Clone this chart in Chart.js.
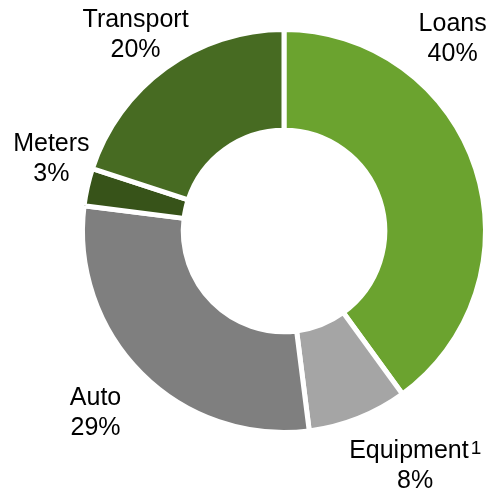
<!DOCTYPE html>
<html>
<head>
<meta charset="utf-8">
<script src="https://cdn.jsdelivr.net/npm/chart.js@4.4.1/dist/chart.umd.min.js"></script>
<style>
    html, body { margin: 0; padding: 0; background: #ffffff; }
    #wrap { width: 489px; height: 490px; position: relative; }
</style>
</head>
<body>
<div id="wrap"><canvas id="mixChart"></canvas></div>
<script>
// Portfolio mix - share of each segment (%)
const categories = ['Loans', 'Equipment\u00B9', 'Auto', 'Meters', 'Transport'];
const shares = [40, 8, 29, 3, 20];
const sliceColors = ['#6ba32f', '#a5a5a5', '#7f7f7f', '#375319', '#476b22'];

// label nudges (px) from the outer middle of each slice
const labelNudges = [[-23, -138], [57, 40], [-46, 32], [-36, -36], [-30, -41]];

const mainFont = '25px "Liberation Sans", Arial, sans-serif';
const supFont = '19px "Liberation Sans", Arial, sans-serif';

// Draws a name, with a footnote mark drawn as a real superscript
function drawName(ctx, text, x, y) {
    const sup = text.endsWith('\u00B9');
    if (!sup) {
        ctx.textAlign = 'center';
        ctx.fillText(text, x, y);
        return;
    }
    const base = text.slice(0, -1);
    ctx.font = mainFont;
    const w1 = ctx.measureText(base).width;
    ctx.font = supFont;
    const w2 = ctx.measureText('1').width;
    const gap = 2;
    const left = x - (w1 + gap + w2) / 2;
    ctx.textAlign = 'left';
    ctx.font = mainFont;
    ctx.fillText(base, left, y);
    ctx.font = supFont;
    ctx.fillText('1', left + w1 + gap, y - 4);
    ctx.font = mainFont;
    ctx.textAlign = 'center';
}

const outsideLabels = {
    id: 'outsideLabels',
    afterDatasetsDraw(chart) {
        const ctx = chart.ctx;
        const meta = chart.getDatasetMeta(0);
        ctx.save();
        ctx.font = mainFont;
        ctx.fillStyle = '#000000';
        ctx.textAlign = 'center';
        ctx.textBaseline = 'alphabetic';
        meta.data.forEach((arc, i) => {
            const p = arc.getProps(['x', 'y', 'startAngle', 'endAngle', 'outerRadius'], true);
            const mid = (p.startAngle + p.endAngle) / 2;
            const ax = p.x + Math.cos(mid) * p.outerRadius + labelNudges[i][0];
            const ay = p.y + Math.sin(mid) * p.outerRadius + labelNudges[i][1];
            drawName(ctx, categories[i], ax, ay);
            ctx.fillText(shares[i] + '%', ax, ay + 30);
        });
        ctx.restore();
    }
};

const ctx = document.getElementById('mixChart').getContext('2d');
new Chart(ctx, {
    type: 'doughnut',
    data: {
        labels: categories,
        datasets: [{
            data: shares,
            backgroundColor: sliceColors,
            borderColor: '#ffffff',
            borderWidth: 5
        }]
    },
    options: {
        responsive: true,
        maintainAspectRatio: false,
        animation: false,
        cutout: '50%',
        layout: {
            padding: { top: 27, bottom: 55, left: 80, right: 1 }
        },
        plugins: {
            legend: { display: false },
            tooltip: { enabled: false }
        }
    },
    plugins: [outsideLabels]
});
</script>
</body>
</html>
